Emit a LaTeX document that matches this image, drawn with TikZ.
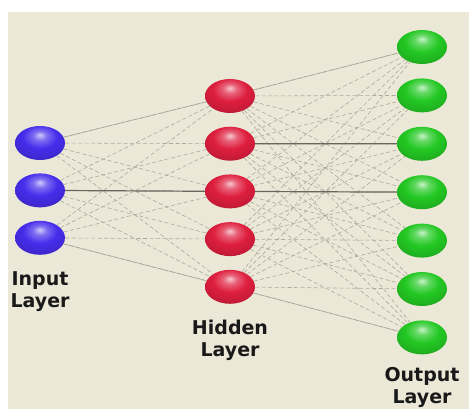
\documentclass[tikz,border=0pt]{standalone}
\usepackage{fontspec}
\setmainfont{DejaVu Sans}
\usepackage{tikz}
\usetikzlibrary{positioning,shapes.geometric}

\definecolor{paper}{RGB}{236,232,216}
\definecolor{inblue}{RGB}{70,45,235}
\definecolor{hidred}{RGB}{222,30,62}
\definecolor{outgreen}{RGB}{35,200,35}
\definecolor{wire}{RGB}{172,169,156}
\definecolor{darkwire}{RGB}{105,102,94}

% brighter ball, light spot near the top
\makeatletter
\pgfdeclareradialshading[tikz@ball]{neuronball}{\pgfqpoint{0bp}{12bp}}{%
  color(0bp)=(tikz@ball!25!white); color(7bp)=(tikz@ball!70!white);
  color(17bp)=(tikz@ball); color(28bp)=(tikz@ball!90!black);
  color(40bp)=(tikz@ball!70!black); color(56bp)=(tikz@ball!45!black);
  color(70bp)=(tikz@ball!35!black)}
\makeatother

\begin{document}
\begin{tikzpicture}[x=1pt, y=-1pt,
neuron/.style={ellipse, minimum width=50pt, minimum height=34pt, inner sep=0pt, shading=neuronball},
innode/.style={ball color=inblue, neuron},
hidnode/.style={ball color=hidred, neuron},
outnode/.style={ball color=outgreen, neuron},
layertext/.style={align=center, inner sep=0pt, font=\bfseries\fontsize{19}{22}\selectfont, text=black!90},
link/.style={draw=wire, line width=0.6pt, dash pattern=on 4pt off 2.5pt},
solidlink/.style={draw=wire, line width=0.6pt},
mainlink/.style={draw=darkwire, line width=1.2pt},
]
\useasboundingbox (0,0) rectangle (469,409);
\fill[paper] (8,12) rectangle (469,409);

%Nodes
\node[innode]      (in1)     at (40,143)              {};
\node[innode]      (in2)     [below=13pt of in1]      {};
\node[innode]      (in3)     [below=13pt of in2]      {};
\node[hidnode]     (h1)      at (230,96)              {};
\node[hidnode]     (h2)      [below=13.3pt of h1]     {};
\node[hidnode]     (h3)      [below=13.3pt of h2]     {};
\node[hidnode]     (h4)      [below=13.3pt of h3]     {};
\node[hidnode]     (h5)      [below=13.3pt of h4]     {};
\node[outnode]     (o1)      at (422,47)              {};
\node[outnode]     (o2)      [below=14pt of o1]       {};
\node[outnode]     (o3)      [below=14pt of o2]       {};
\node[outnode]     (o4)      [below=14pt of o3]       {};
\node[outnode]     (o5)      [below=14pt of o4]       {};
\node[outnode]     (o6)      [below=14pt of o5]       {};
\node[outnode]     (o7)      [below=14pt of o6]       {};

\node[layertext]   (inlab)   [below=16pt of in3]      {Input\\Layer};
\node[layertext]   (hidlab)  [below=15.5pt of h5]     {Hidden\\Layer};
\node[layertext]   (outlab)  [below=12.5pt of o7]     {Output\\Layer};

%Lines
\foreach \i in {1,2,3}
  \foreach \j in {1,...,5}
    \draw[link] (in\i) -- (h\j);
\foreach \j in {1,...,5}
  \foreach \k in {1,...,7}
    \draw[link] (h\j) -- (o\k);
\draw[solidlink] (in1) -- (h1);
\draw[solidlink] (in3) -- (h5);
\draw[solidlink] (h1) -- (o1);
\draw[solidlink] (h5) -- (o7);
\draw[mainlink] (in2) -- (h3);
\draw[mainlink] (h2) -- (o3);
\draw[mainlink] (h3) -- (o4);
\end{tikzpicture}
\end{document}
